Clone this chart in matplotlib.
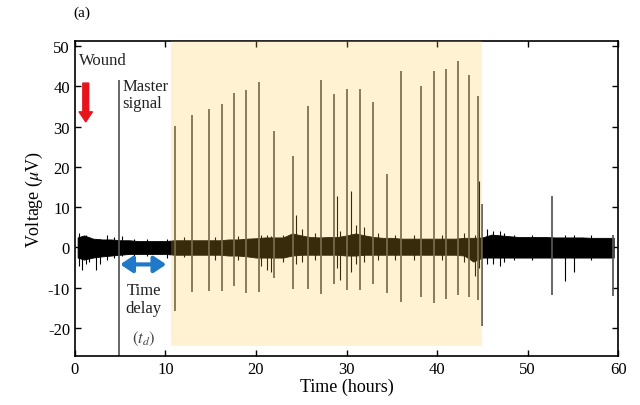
import numpy as np
import matplotlib
matplotlib.use("Agg")
import matplotlib.pyplot as plt
from matplotlib.patches import FancyArrowPatch

plt.rcParams['font.family'] = ['Liberation Serif', 'DejaVu Serif']
plt.rcParams['mathtext.fontset'] = 'stix'
plt.rcParams['axes.unicode_minus'] = False

# baseline noise band (envelope, uV)
env_t = [0.3, 1, 2, 3, 4, 5, 6, 7, 8, 9, 10, 11, 12, 13, 14, 15, 16, 17, 18, 19, 20,
         21, 22, 23, 24, 25, 26, 27, 28, 29, 30, 31, 32, 33, 34, 35, 36, 37, 38, 39, 40,
         41, 42, 43, 44, 45, 46, 47, 48, 49, 50, 51, 52, 53, 54, 55, 56, 57, 58, 59, 59.5]
env_hi = [2.5, 3.0, 2.2, 2.0, 2.0, 1.8, 1.8, 1.6, 1.6, 1.6, 1.6, 1.8, 1.8, 1.8, 1.8, 1.8, 1.8, 2.0, 2.0, 2.2, 2.3,
          2.5, 2.5, 2.5, 3.5, 3.0, 2.6, 2.5, 2.6, 2.6, 3.0, 3.5, 3.0, 2.6, 2.4, 2.4, 2.2, 2.2, 2.2, 2.2, 2.2,
          2.2, 2.2, 2.4, 2.4, 2.5, 3.2, 3.0, 2.8, 2.6, 2.6, 2.6, 2.6, 2.5, 2.5, 2.5, 2.5, 2.4, 2.4, 2.4, 2.4]
env_lo = [-2.5, -3.0, -2.5, -2.2, -2.0, -1.8, -1.6, -1.6, -1.6, -1.6, -1.6, -1.8, -1.8, -1.8, -1.8, -1.8, -1.8, -2.0, -2.0, -2.2, -2.5,
          -2.5, -2.5, -2.5, -2.0, -1.8, -1.8, -1.8, -1.8, -1.8, -2.0, -2.0, -1.8, -1.8, -1.8, -1.8, -1.8, -1.8, -1.8, -1.8, -1.8,
          -1.8, -1.8, -2.0, -3.5, -2.5, -2.5, -2.5, -2.5, -2.5, -2.5, -2.5, -2.5, -2.5, -2.5, -2.5, -2.5, -2.5, -2.5, -2.5, -2.5]

# small excursions on the band
tex_t = [0.5, 0.8, 1.2, 1.6, 2.3, 2.8, 3.6, 4.3, 5.2, 6.5, 8.0, 10.2, 12.0, 15.5, 18.0, 20.5, 21.2, 21.7,
         23.0, 24.4, 25.1, 26.5, 28.9, 29.3, 30.5, 31.0, 31.9, 33.5, 35.3, 37.5, 40.5, 43.0, 44.2, 44.6,
         45.5, 46.2, 46.9, 47.4, 48.5, 50.5, 54.1, 55.1, 57.0]
tex_hi = [3.5, 2.5, 3.0, 2.5, 2.2, 2.0, 3.0, 2.5, 2.8, 2.2, 2.0, 2.2, 2.5, 2.6, 2.8, 3.2, 3.0, 2.8,
          3.0, 8.0, 4.5, 3.5, 12.7, 4.0, 14.0, 5.5, 5.0, 3.5, 3.0, 3.0, 3.0, 3.5, 3.0, 16.4,
          4.5, 4.0, 4.0, 3.5, 3.2, 3.0, 3.0, 3.0, 3.0]
tex_lo = [-4.5, -5.5, -4.0, -3.5, -5.5, -4.0, -3.0, -2.5, -2.0, -2.0, -2.2, -2.5, -2.4, -3.0, -3.0, -4.5, -5.5, -6.0,
          -3.5, -4.0, -3.5, -3.0, -5.0, -8.0, -6.0, -4.0, -3.5, -3.0, -3.0, -3.0, -3.0, -3.5, -7.0, -5.0,
          -4.0, -4.0, -4.5, -3.5, -3.0, -3.0, -8.2, -6.0, -3.0]

# large spikes: time (h), peak, trough (uV)
spike_t = [4.86, 11.05, 12.93, 14.77, 16.21, 17.57, 18.9, 20.3, 22.02, 24.05, 25.78, 27.15, 28.65,
           30.06, 31.49, 32.96, 34.44, 35.99, 38.23, 39.67, 41.0, 42.29, 43.57, 44.56, 44.97,
           52.7, 59.4]
spike_hi = [41.6, 30.1, 32.8, 34.4, 35.6, 38.3, 39.2, 41.0, 28.9, 22.7, 35.2, 41.6, 38.1,
            39.3, 39.3, 36.2, 18.2, 43.7, 40.0, 43.9, 44.4, 46.2, 42.9, 37.5, 10.7,
            12.7, 3.0]
spike_lo = [-30.0, -15.8, -11.0, -10.9, -10.9, -9.5, -11.2, -11.0, -7.5, -10.2, -10.4, -11.6, -9.0,
            -10.6, -10.6, -9.0, -11.4, -13.5, -12.4, -13.8, -12.9, -11.7, -12.3, -13.0, -19.6,
            -11.9, -12.0]

shade_start, shade_end, shade_bottom = 10.6, 45.0, -24.4

fig = plt.figure(figsize=(6.4, 4.06), dpi=100)
ax = fig.add_axes([0.117, 0.121, 0.849, 0.775])

ax.fill_between(env_t, env_lo, env_hi, color='black', lw=0.6, edgecolor='black', zorder=2)
ax.vlines(tex_t, tex_lo, tex_hi, colors='black', lw=0.8, zorder=2)
ax.vlines(spike_t, spike_lo, spike_hi, colors='#555555', lw=1.25, zorder=2)

ax.fill_between([shade_start, shade_end], shade_bottom, 55, color='#ffc43a', alpha=0.22,
                lw=0, zorder=4)

ax.set_xlim(0, 60)
ax.set_ylim(-26.9, 51.2)
ax.set_xticks(np.arange(0, 61, 10))
ax.set_yticks(np.arange(-20, 51, 10))
ax.tick_params(direction='in', top=True, right=True, labelsize=12, length=4, width=1)
for s in ax.spines.values():
    s.set_linewidth(1.2)

ax.set_xlabel('Time (hours)', fontsize=13, labelpad=1)
ax.set_ylabel(r'Voltage ($\mu$V)', fontsize=13, labelpad=2)

# annotations
ax.text(0.45, 46.5, 'Wound', fontsize=12, ha='left', va='center', color='#222222')
ax.add_patch(FancyArrowPatch((1.2, 41.5), (1.2, 30.5), arrowstyle='simple,head_width=0.8,head_length=0.6,tail_width=0.35',
                             mutation_scale=12, color='#e8141c', zorder=5))
ax.text(5.25, 42.0, 'Master\nsignal', fontsize=12, ha='left', va='top', color='#222222', linespacing=1.1)
ax.add_patch(FancyArrowPatch((4.7, -4.2), (10.4, -4.2), arrowstyle='<|-|>,head_width=0.4,head_length=0.6',
                             mutation_scale=12, lw=3, color='#1f78c8', zorder=5))
ax.text(7.6, -8.5, 'Time\ndelay', fontsize=12, ha='center', va='top', color='#222222', linespacing=1.15)
ax.text(7.6, -22.5, r'$(t_d)$', fontsize=12, ha='center', va='center', color='#444444')

fig.text(0.128, 0.968, '(a)', fontsize=11, ha='center', va='center')

fig.savefig('out.png', dpi=100)
